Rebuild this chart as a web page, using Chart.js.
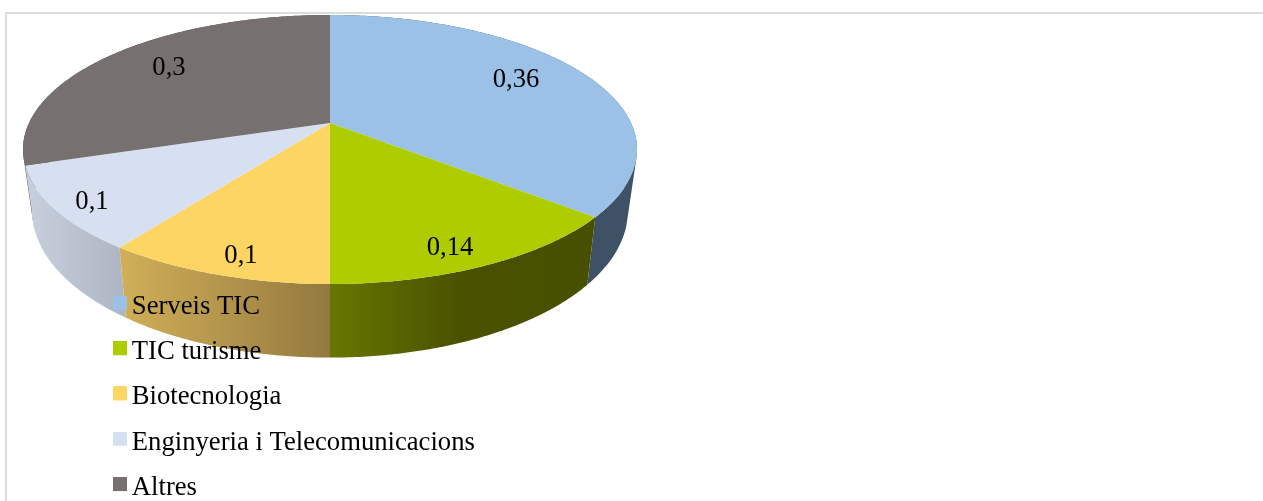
<!DOCTYPE html>
<html>
<head>
<meta charset="utf-8">
<style>
  html, body { margin: 0; padding: 0; background: #fff; overflow: hidden; }
  canvas { display: block; }
</style>
<script src="https://cdn.jsdelivr.net/npm/chart.js@4"></script>
</head>
<body>
<canvas id="sectorsChart" width="1263" height="501"></canvas>
<script>
var categories = ["Serveis TIC", "TIC turisme", "Biotecnologia", "Enginyeria i Telecomunicacions", "Altres"];
var shares = [0.36, 0.14, 0.1, 0.1, 0.3];
var topColors = ['#9bc2e6', '#adcd00', '#fcd565', '#d6e0f1', '#767070'];

// shading of the pie's wall, left to right, per slice
var wallColors = [
    ['#3f5165', '#3f5165'],
    ['#677700', '#4a5200', '#465000'],
    ['#cfae57', '#94793f'],
    ['#c6cddb', '#adb5c2'],
    ['#5c5757', '#5c5757']
];

// where the value labels sit on the pie
var labelSpots = [[516, 78], [450, 246], [241, 254], [92, 200], [169, 66]];

var FONT = '"Liberation Serif", serif';
var FONT_SIZE = 26.67;

// perspective of the tilted pie: top face and bottom face of the disc
var topFace = { cx: 330, cy: 123, a: 301, b: 129.3 };
var bottomFace = { cx: 330, cy: 182, a: 292, b: 141 };
var TILT = 0.197;

function project(face, angle, r) {
    var x = Math.cos(angle) * r, y = Math.sin(angle) * r;
    var w = 1 - TILT * y;
    return [face.cx + face.a * x / w, face.cy + face.b * y / w];
}

function drawWall(ctx, arc, stops) {
    var steps = Math.ceil((arc.endAngle - arc.startAngle) / 0.01);
    ctx.beginPath();
    for (var i = 0; i < steps; i++) {
        var a0 = arc.startAngle + (arc.endAngle - arc.startAngle) * i / steps;
        var a1 = arc.startAngle + (arc.endAngle - arc.startAngle) * (i + 1) / steps;
        var quad = [project(topFace, a0, 1), project(topFace, a1, 1), project(bottomFace, a1, 1), project(bottomFace, a0, 1)];
        // same winding for every quad, so the fold of the wall does not cancel out
        var area = 0;
        quad.forEach(function (p, k) {
            var q = quad[(k + 1) % 4];
            area += p[0] * q[1] - q[0] * p[1];
        });
        if (area < 0) quad.reverse();
        ctx.moveTo(quad[0][0], quad[0][1]);
        ctx.lineTo(quad[1][0], quad[1][1]);
        ctx.lineTo(quad[2][0], quad[2][1]);
        ctx.lineTo(quad[3][0], quad[3][1]);
        ctx.closePath();
    }
    var xs = [];
    for (var j = 0; j <= steps; j++) {
        var an = arc.startAngle + (arc.endAngle - arc.startAngle) * j / steps;
        if (Math.sin(an) > 0) xs.push(project(bottomFace, an, 1)[0]);
    }
    var left = xs.length ? Math.min.apply(null, xs) : 0;
    var right = xs.length ? Math.max.apply(null, xs) : 1;
    var grad = ctx.createLinearGradient(left, 0, right, 0);
    stops.forEach(function (c, k) { grad.addColorStop(k / (stops.length - 1), c); });
    ctx.fillStyle = grad;
    ctx.fill();
}

function drawTop(ctx, arc, color) {
    var steps = Math.ceil((arc.endAngle - arc.startAngle) / 0.01);
    ctx.beginPath();
    ctx.moveTo(topFace.cx, topFace.cy);
    for (var i = 0; i <= steps; i++) {
        var p = project(topFace, arc.startAngle + (arc.endAngle - arc.startAngle) * i / steps, 1);
        ctx.lineTo(p[0], p[1]);
    }
    ctx.closePath();
    ctx.fillStyle = color;
    ctx.fill();
}

function midDepth(arc) {
    return Math.sin((arc.startAngle + arc.endAngle) / 2);
}

var pie3d = {
    id: 'pie3d',
    afterLayout: function (chart) {
        // the legend hangs over the pie, it takes no room of its own
        var legend = chart.legend;
        var pad = legend.options.labels.padding;
        legend.left = 117.5 - pad;
        legend.right = legend.left + 500;
        legend.top = 275;
        legend.bottom = 520;
    },
    beforeDraw: function (chart) {
        var ctx = chart.ctx;
        var arcs = chart.getDatasetMeta(0).data;

        ctx.save();
        ctx.fillStyle = '#dcdcdc';
        ctx.fillRect(5, 12, 1258, 2);
        ctx.fillRect(5, 12, 2, 489);

        // back walls first, the front ones cover them
        var order = arcs.map(function (arc, i) { return i; });
        order.sort(function (p, q) { return midDepth(arcs[p]) - midDepth(arcs[q]); });
        order.forEach(function (i) { drawWall(ctx, arcs[i], wallColors[i]); });
        arcs.forEach(function (arc, i) { drawTop(ctx, arc, topColors[i]); });

        ctx.fillStyle = '#000';
        ctx.font = FONT_SIZE + 'px ' + FONT;
        ctx.textAlign = 'center';
        ctx.textBaseline = 'middle';
        shares.forEach(function (v, i) {
            ctx.fillText(String(v).replace('.', ','), labelSpots[i][0], labelSpots[i][1] + 2);
        });
        ctx.restore();
    },
    beforeDatasetsDraw: function () {
        return false;
    }
};

// legend swatch, with blank strips left and below to sit it close to and above the text centre
function swatch(color) {
    var c = document.createElement('canvas');
    c.width = 18;
    c.height = 22;
    var g = c.getContext('2d');
    g.fillStyle = color;
    g.fillRect(4, 0, 14, 14);
    return c;
}

var ctx = document.getElementById('sectorsChart').getContext('2d');
var chart = new Chart(ctx, {
    type: 'pie',
    data: {
        labels: categories,
        datasets: [{
            data: shares,
            backgroundColor: topColors,
            borderWidth: 0
        }]
    },
    options: {
        responsive: false,
        animation: false,
        plugins: {
            tooltip: { enabled: false },
            legend: {
                position: 'left',
                align: 'start',
                labels: {
                    color: '#000',
                    font: { family: FONT, size: FONT_SIZE },
                    padding: 18.6,
                    usePointStyle: true,
                    pointStyleWidth: 1,
                    generateLabels: function () {
                        return categories.map(function (name, i) {
                            return { text: name, pointStyle: swatch(topColors[i]), fillStyle: topColors[i], strokeStyle: topColors[i], lineWidth: 0, index: i };
                        });
                    }
                }
            }
        }
    },
    plugins: [pie3d]
});
</script>
</body>
</html>
